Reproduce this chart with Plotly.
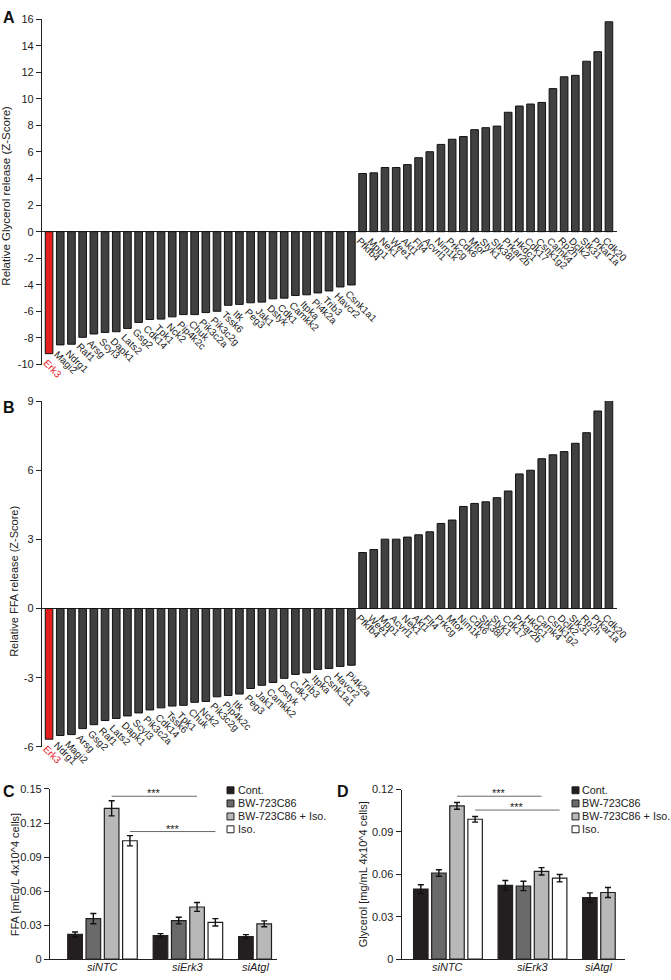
import plotly.graph_objects as go

W, H = 671, 980
FONT = "Arial, Liberation Sans, sans-serif"

# ---------------- Panel A data ----------------
genes_a = ["Erk3", "Magi2", "Ndrg1", "Raf1", "Arsg", "Scyl3", "Dapk1", "Lats2", "Gsg2", "Cdk14",
           "Tpk1", "Nck2", "Pip4k2c", "Chuk", "Pik3c2a", "Pik3c2g", "Tssk6", "Itk", "Peg3", "Jak1",
           "Dstyk", "Cdk1", "Camkk2", "Itpka", "Pi4k2a", "Trib3", "Havcr2", "Csnk1a1",
           "Pfkfb4", "Mpp1", "Nek1", "Wee1", "Akt1", "Flt4", "Acvrl1", "Nim1k", "Prkcg", "Cdk6",
           "Mtor", "Styk1", "Stk38l", "Prkar2b", "Hkdc1", "Cdk17", "Csnk1g2", "Camk4", "Rp2h",
           "Dclk2", "Stk31", "Prkar1a", "Cdk20"]
z_glycerol = [-9.18, -8.52, -8.47, -7.95, -7.70, -7.58, -7.53, -7.28, -6.83, -6.61,
              -6.58, -6.41, -6.24, -6.24, -6.09, -5.99, -5.54, -5.47, -5.35, -5.30,
              -5.05, -5.00, -4.80, -4.75, -4.61, -4.46, -4.16, -4.01,
              4.38, 4.43, 4.83, 4.83, 5.05, 5.57, 6.02, 6.57, 6.96, 7.16,
              7.68, 7.83, 7.95, 8.99, 9.46, 9.61, 9.73, 10.77, 11.66,
              11.77, 12.83, 13.55, 15.80]

# ---------------- Panel B data ----------------
genes_b = ["Erk3", "Ndrg1", "Magi2", "Arsg", "Gsg2", "Raf1", "Lats2", "Dapk1", "Scyl3", "Pik3c2a",
           "Cdk14", "Tssk6", "Tpk1", "Chuk", "Nck2", "Pik3c2g", "Pip4k2c", "Itk", "Peg3", "Jak1",
           "Camkk2", "Dstyk", "Cdk1", "Trib3", "Itpka", "Csnk1a1", "Havcr2", "Pi4k2a",
           "Pfkfb4", "Wee1", "Mpp1", "Acvrl1", "Nek1", "Akt1", "Flt4", "Prkcg", "Mtor", "Nim1k",
           "Cdk6", "Stk38l", "Styk1", "Cdk17", "Prkar2b", "Hkdc1", "Camk4", "Csnk1g2", "Dclk2",
           "Stk31", "Rp2h", "Prkar1a", "Cdk20"]
z_ffa = [-5.67, -5.51, -5.47, -5.21, -5.04, -4.86, -4.77, -4.66, -4.53, -4.40,
         -4.31, -4.23, -4.20, -4.07, -4.03, -3.83, -3.77, -3.71, -3.47, -3.33,
         -3.21, -3.03, -2.86, -2.79, -2.64, -2.60, -2.51, -2.46,
         2.43, 2.56, 3.01, 3.01, 3.10, 3.20, 3.33, 3.69, 3.84, 4.43,
         4.56, 4.63, 4.81, 5.10, 5.84, 6.00, 6.50, 6.67, 6.81,
         7.17, 7.63, 8.57, 9.09]
highlight_gene = "Erk3"

# ---------------- Panels C / D data ----------------
groups = ["siNTC", "siErk3", "siAtgl"]
conditions = ["Cont.", "BW-723C86", "BW-723C86 + Iso.", "Iso."]
cond_colors = ["#231f20", "#6a6a6a", "#b8b8b8", "#ffffff"]

ffa_cont = [0.0218, 0.0208, 0.0200]
ffa_bw = [0.0357, 0.0340, None]
ffa_bw_iso = [0.1330, 0.0460, 0.0312]
ffa_iso = [0.1044, 0.0325, None]
ffa_cont_err = [0.0022, 0.0017, 0.0016]
ffa_bw_err = [0.0045, 0.0029, None]
ffa_bw_iso_err = [0.0067, 0.0039, 0.0026]
ffa_iso_err = [0.0045, 0.0032, None]

gly_cont = [0.0496, 0.0522, 0.0436]
gly_bw = [0.0610, 0.0518, None]
gly_bw_iso = [0.1085, 0.0622, 0.0472]
gly_iso = [0.0990, 0.0573, None]
gly_cont_err = [0.0031, 0.0035, 0.0033]
gly_bw_err = [0.0023, 0.0033, None]
gly_bw_iso_err = [0.0024, 0.0026, 0.0035]
gly_iso_err = [0.0020, 0.0026, None]

ffa_ticks = [0, 0.03, 0.06, 0.09, 0.12, 0.15]
gly_ticks = [0, 0.03, 0.06, 0.09, 0.12]


def px(x):
    return x / W


def py(y):
    return 1 - y / H


fig = go.Figure()
annotations = []
shapes = []


def zscore_panel(genes, vals, xa, ya):
    colors = ["#e3201f" if g == highlight_gene else "#404040" for g in genes]
    fig.add_trace(go.Bar(x=genes, y=vals, xaxis=xa, yaxis=ya, width=0.68,
                         marker=dict(color=colors, line=dict(color="#111111", width=1)),
                         showlegend=False, hoverinfo="x+y"))
    for g, v in zip(genes, vals):
        annotations.append(dict(
            x=g, y=min(v, 0), xref=xa, yref=ya, text=g, showarrow=False,
            textangle=45, xanchor="left", yanchor="top", xshift=-11, yshift=-1,
            font=dict(family=FONT, size=10, color="#e3201f" if g == highlight_gene else "#222222")))


zscore_panel(genes_a, z_glycerol, "x", "y")
zscore_panel(genes_b, z_ffa, "x2", "y2")


def layout_positions(series_list, gap=0.67):
    pos = [[None] * len(groups) for _ in series_list]
    centers = []
    start = 0.0
    for g in range(len(groups)):
        k = 0
        for s, vals in enumerate(series_list):
            if vals[g] is not None:
                pos[s][g] = start + k
                k += 1
        centers.append(start + (k - 1) / 2)
        start += k + gap
    return pos, centers


def grouped_panel(series, errs, xa, ya):
    pos, centers = layout_positions(series)
    for s, (vals, err) in enumerate(zip(series, errs)):
        xs = [pos[s][g] for g in range(len(groups)) if vals[g] is not None]
        ys = [vals[g] for g in range(len(groups)) if vals[g] is not None]
        es = [err[g] for g in range(len(groups)) if vals[g] is not None]
        fig.add_trace(go.Bar(x=xs, y=ys, xaxis=xa, yaxis=ya, width=0.8, name=conditions[s],
                             marker=dict(color=cond_colors[s], line=dict(color="#231f20", width=1.2)),
                             error_y=dict(type="data", array=es, color="#111111", thickness=1.4, width=3),
                             showlegend=False))
    for c, g in zip(centers, groups):
        annotations.append(dict(x=c, y=py(972.5), xref=xa, yref="paper", text="<i>%s</i>" % g,
                                showarrow=False, xanchor="center", yanchor="middle",
                                font=dict(family=FONT, size=11, color="#222222")))
    return pos, centers


ffa_series = [ffa_cont, ffa_bw, ffa_bw_iso, ffa_iso]
ffa_errs = [ffa_cont_err, ffa_bw_err, ffa_bw_iso_err, ffa_iso_err]
gly_series = [gly_cont, gly_bw, gly_bw_iso, gly_iso]
gly_errs = [gly_cont_err, gly_bw_err, gly_bw_iso_err, gly_iso_err]

pos_c, centers_c = grouped_panel(ffa_series, ffa_errs, "x3", "y3")
pos_d, centers_d = grouped_panel(gly_series, gly_errs, "x4", "y4")


def sig_line(pos, s, y, xref, yref):
    x0, x1 = pos[s][0], pos[s][1]
    shapes.append(dict(type="line", xref=xref, yref=yref, x0=x0, x1=x1, y0=y, y1=y,
                       line=dict(color="#6a6a6a", width=1)))
    annotations.append(dict(x=(x0 + x1) / 2, y=y, xref=xref, yref=yref, text="***",
                            showarrow=False, xanchor="center", yanchor="bottom", yshift=-5,
                            font=dict(family=FONT, size=11, color="#222222")))


sig_line(pos_c, 2, 0.1436, "x3", "y3")
sig_line(pos_c, 3, 0.1125, "x3", "y3")
sig_line(pos_d, 2, 0.1153, "x4", "y4")
sig_line(pos_d, 3, 0.1055, "x4", "y4")


# manual legends
def legend(x_sq, x_txt, rows_y):
    for i, (c, col) in enumerate(zip(conditions, cond_colors)):
        yc = rows_y[i]
        shapes.append(dict(type="rect", xref="paper", yref="paper",
                           x0=px(x_sq), x1=px(x_sq + 7), y0=py(yc + 3.5), y1=py(yc - 3.5),
                           fillcolor=col, line=dict(color="#231f20", width=1)))
        annotations.append(dict(x=px(x_txt), y=py(yc), xref="paper", yref="paper", text=c,
                                showarrow=False, xanchor="left", yanchor="middle", borderpad=0,
                                font=dict(family=FONT, size=10.8, color="#222222")))


legend(227, 236.5, [794, 807.3, 820.5, 833.5])
legend(572, 580.5, [794, 807.3, 820.5, 833.5])

# axis titles and panel letters
titles = [
    ("Relative Glycerol release (Z-Score)", 6, 192, 11.5),
    ("Relative FFA release (Z-Score)", 14, 583, 11),
    ("FFA [mEq/L 4x10^4 cells]", 15, 880, 11),
    ("Glycerol [mg/mL 4x10^4 cells]", 363, 879, 11),
]
for t, xx, yy, fs in titles:
    annotations.append(dict(x=px(xx), y=py(yy), xref="paper", yref="paper", text=t,
                            showarrow=False, textangle=-90, xanchor="center", yanchor="middle",
                            font=dict(family=FONT, size=fs, color="#222222")))
for t, xx, yy in [("A", 1, 1), ("B", 1, 396), ("C", 1, 785), ("D", 335, 785)]:
    annotations.append(dict(x=px(xx), y=py(yy), xref="paper", yref="paper", text="<b>%s</b>" % t,
                            showarrow=False, xanchor="left", yanchor="top",
                            font=dict(family=FONT, size=16, color="#111111")))

tickfont = dict(family=FONT, size=11, color="#222222")


def yax(domain, rng, vals, texts):
    return dict(domain=domain, range=rng, tickvals=vals, ticktext=texts, showline=True,
                linecolor="#222222", linewidth=1.3, ticks="outside", ticklen=5, tickwidth=1.2,
                tickcolor="#222222", tickfont=tickfont, showgrid=False, zeroline=False,
                fixedrange=True)


def num_txt(v):
    return ("-%g" % abs(v)) if v < 0 else ("%g" % v)


ya_vals = list(range(-10, 17, 2))
yb_vals = list(range(-6, 10, 3))

yA = yax([py(363), py(13.3)], [-10, 16], ya_vals, [num_txt(v) for v in ya_vals])
yA.update(zeroline=True, zerolinecolor="#222222", zerolinewidth=1.3)
yB = yax([py(750), py(400)], [-6, 9], yb_vals, [num_txt(v) for v in yb_vals])
yB.update(zeroline=True, zerolinecolor="#222222", zerolinewidth=1.3)
yC = yax([py(965), py(792.7)], [0, 0.15], ffa_ticks, [num_txt(v) for v in ffa_ticks])
yD = yax([py(965), py(793.3)], [0, 0.12], gly_ticks, [num_txt(v) for v in gly_ticks])

xcat = dict(showticklabels=False, ticks="", showline=False, showgrid=False, zeroline=False,
            type="category", range=[-0.63, 50.72], fixedrange=True)


def xgrp(domain, rng):
    return dict(domain=domain, range=rng, showticklabels=False, ticks="", showline=True,
                linecolor="#222222", linewidth=1.3, showgrid=False, zeroline=False,
                fixedrange=True)


fig.update_layout(
    width=W, height=H, margin=dict(l=0, r=0, t=0, b=0),
    paper_bgcolor="white", plot_bgcolor="white", font=dict(family=FONT, size=11, color="#222222"),
    showlegend=False, barmode="overlay",
    xaxis=dict(domain=[px(42), px(617)], anchor="y", **xcat),
    yaxis=dict(anchor="x", **yA),
    xaxis2=dict(domain=[px(42), px(617)], anchor="y2", **xcat),
    yaxis2=dict(anchor="x2", **yB),
    xaxis3=dict(anchor="y3", **xgrp([px(50), px(277)], [-1.37, 11.04])),
    yaxis3=dict(anchor="x3", **yC),
    xaxis4=dict(anchor="y4", **xgrp([px(401.7), px(625)], [-1.055, 11.28])),
    yaxis4=dict(anchor="x4", **yD),
    annotations=annotations, shapes=shapes,
)

fig.write_html("out.html", config={"displayModeBar": False},
               post_script="document.body.style.margin='0';document.body.style.overflow='hidden';")
